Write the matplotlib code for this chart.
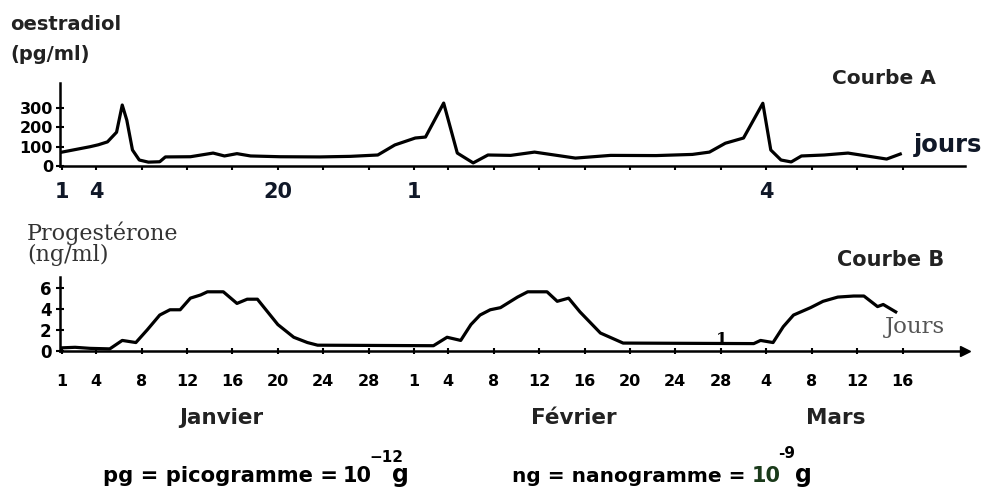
import matplotlib.pyplot as plt

# oestradiol (pg/ml), day index: 1 = 1 janvier, 32 = 1 fevrier, 60 = 1 mars
days_e = [1, 2.15, 3.47, 4.2, 5.0, 5.8, 6.3, 6.7, 7.2, 7.8, 8.6, 9.6, 10.1,
          12.3, 14.3, 15.3, 16.4, 17.6, 20.2, 23.7, 26.4, 28.8, 30.3, 32.1,
          33.0, 34.6, 35.8, 37.2, 38.5, 40.5, 42.6, 46.2, 49.3, 53.3, 56.5,
          58.0, 59.4, 61.0, 62.7, 63.4, 64.3, 65.2, 66.1, 68.1, 70.2, 72.4,
          73.6, 74.8]
oestradiol = [72, 85, 100, 110, 125, 175, 316, 238, 83, 31, 20, 22, 47,
              48, 67, 52, 64, 52, 48, 47, 50, 57, 109, 145,
              150, 326, 67, 16, 57, 55, 72, 41, 55, 54, 60,
              72, 118, 145, 325, 83, 31, 21, 52, 57, 67, 47,
              36, 62]

# progesterone (ng/ml)
days_p = [1, 2.15, 3.47, 5.2, 6.3, 7.5, 8.5, 9.6, 10.5, 11.4, 12.3, 13.2,
          13.8, 15.2, 16.4, 17.3, 18.2, 20.0, 21.4, 22.6, 23.5, 33.7, 34.9,
          36.1, 37.0, 37.8, 38.7, 39.6, 41.1, 42.0, 43.7, 44.6, 45.6, 46.6,
          48.4, 50.4, 61.9, 62.5, 63.6, 64.5, 65.4, 66.9, 68.0, 69.3, 70.7,
          71.6, 72.8, 73.3, 74.4]
progesterone = [0.3, 0.35, 0.25, 0.2, 1.0, 0.8, 2.0, 3.4, 3.9, 3.9, 5.0, 5.3,
                5.6, 5.6, 4.5, 4.9, 4.9, 2.5, 1.3, 0.8, 0.55, 0.5, 1.3,
                1.0, 2.5, 3.4, 3.9, 4.1, 5.1, 5.6, 5.6, 4.7, 5.0, 3.7,
                1.7, 0.75, 0.7, 1.0, 0.8, 2.3, 3.4, 4.1, 4.7, 5.1, 5.2,
                5.2, 4.2, 4.4, 3.7]

tick_days = [1, 4, 8, 12, 16, 20, 24, 28, 32, 35, 39, 43, 47, 51, 55, 59,
             63, 67, 71, 75]
tick_labels = ['1', '4', '8', '12', '16', '20', '24', '28', '1', '4', '8',
               '12', '16', '20', '24', '28', '4', '8', '12', '16']
top_days = [1, 4, 20, 32, 63]
top_labels = ['1', '4', '20', '1', '4']
months = ['Janvier', 'Février', 'Mars']

plt.rcParams['font.family'] = ['DejaVu Sans']
SERIF = ['DejaVu Serif']

W, H = 991, 492
fig = plt.figure(figsize=(W / 100, H / 100), dpi=100)


def fx(px):
    return px / W


def fy(py):
    return 1 - py / H


x_lo, x_hi = 0.82, 80.5
ax_l, ax_r = 60, 965

# courbe A
ax1 = fig.add_axes([fx(ax_l), fy(166), fx(ax_r - ax_l), (166 - 83) / H])
ax1.plot(days_e, oestradiol, color='black', lw=2.3, solid_joinstyle='round')
ax1.set_xlim(x_lo, x_hi)
ax1.set_ylim(0, 430)
ax1.set_yticks([0, 100, 200, 300])
ax1.set_xticks(tick_days)
ax1.set_xticklabels([])
for s in ['top', 'right']:
    ax1.spines[s].set_visible(False)
for s in ['left', 'bottom']:
    ax1.spines[s].set_linewidth(1.8)
ax1.tick_params(axis='y', direction='inout', length=6, width=1.5,
                labelsize=11.5, pad=2)
ax1.tick_params(axis='x', direction='out', length=3, width=1.5)
for lab in ax1.get_yticklabels():
    lab.set_fontweight('bold')
for d, lab in zip(top_days, top_labels):
    ax1.text(d, -0.19, lab, transform=ax1.get_xaxis_transform(),
             ha='center', va='top', fontsize=15, fontweight='bold',
             color='#101828')

# courbe B
ax2 = fig.add_axes([fx(ax_l), fy(351), fx(ax_r - ax_l), (351 - 277) / H])
ax2.plot(days_p, progesterone, color='black', lw=2.3, solid_joinstyle='round')
ax2.set_xlim(x_lo, x_hi)
ax2.set_ylim(0, 7)
ax2.set_yticks([0, 2, 4, 6])
ax2.set_xticks(tick_days)
ax2.set_xticklabels(tick_labels, fontsize=11.5, fontweight='bold')
for s in ['top', 'right']:
    ax2.spines[s].set_visible(False)
for s in ['left', 'bottom']:
    ax2.spines[s].set_linewidth(1.8)
ax2.tick_params(axis='y', direction='inout', length=6, width=1.5,
                labelsize=12, pad=3)
ax2.tick_params(axis='x', direction='inout', length=5, width=1.5, pad=14)
for lab in ax2.get_yticklabels():
    lab.set_fontweight('bold')
ax2.plot(1, 0, '>', color='black', ms=7, transform=ax2.get_yaxis_transform(),
         clip_on=False)
ax2.text(59.1, 0.25, '1', ha='center', va='bottom', fontsize=12,
         fontweight='bold', family=SERIF)

# labels
fig.text(fx(10), fy(25), 'oestradiol', fontsize=14, fontweight='bold',
         va='center', color='#222222')
fig.text(fx(10), fy(55), '(pg/ml)', fontsize=14, fontweight='bold',
         va='center', color='#222222')
fig.text(fx(832), fy(78), 'Courbe A', fontsize=14.5, fontweight='bold',
         va='center', color='#222222')
fig.text(fx(914), fy(145), 'jours', fontsize=17.5, fontweight='bold',
         va='center', color='#101828')

fig.text(fx(27), fy(233), 'Progestérone', fontsize=16, va='center',
         family=SERIF, color='#333333')
fig.text(fx(27), fy(255), '(ng/ml)', fontsize=16, va='center',
         family=SERIF, color='#333333')
fig.text(fx(837), fy(260), 'Courbe B', fontsize=15, fontweight='bold',
         va='center', color='#222222')
fig.text(fx(885), fy(327), 'Jours', fontsize=16.5, va='center',
         family=SERIF, color='#555555')

for px, m in zip([221, 574, 836], months):
    fig.text(fx(px), fy(418), m, fontsize=15.5, fontweight='bold',
             ha='center', va='center', color='#222222')

# units
fig.text(fx(103), fy(482), 'pg = picogramme =', fontsize=15.2,
         fontweight='bold', va='baseline')
fig.text(fx(343), fy(482), '10', fontsize=15, fontweight='bold',
         va='baseline')
fig.text(fx(369), fy(457), '\u221212', fontsize=11, fontweight='bold',
         va='center')
fig.text(fx(392), fy(482), 'g', fontsize=17, fontweight='bold',
         va='baseline')
fig.text(fx(512), fy(482), 'ng = nanogramme =', fontsize=14.5,
         fontweight='bold', va='baseline')
fig.text(fx(752), fy(482), '10', fontsize=15, fontweight='bold',
         va='baseline', color='#1a3a1a')
fig.text(fx(778), fy(453), '-9', fontsize=11, fontweight='bold',
         va='center')
fig.text(fx(795), fy(482), 'g', fontsize=17, fontweight='bold',
         va='baseline')

fig.savefig('out.png', dpi=100)
